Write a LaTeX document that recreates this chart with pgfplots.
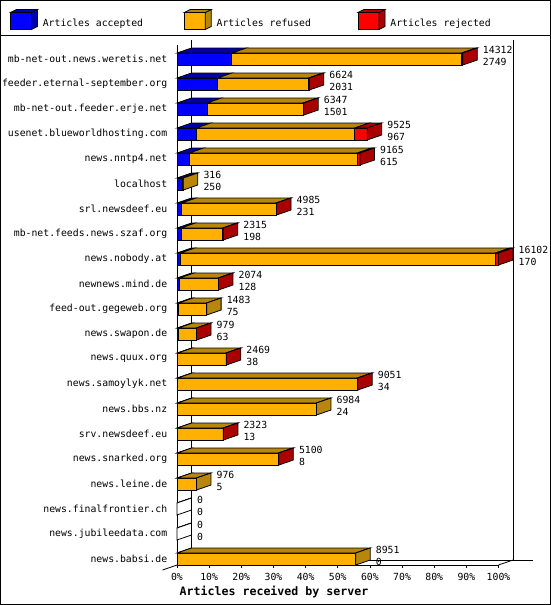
\documentclass[border=0pt]{standalone}
\usepackage{fontspec}
\setmainfont{DejaVu Sans Mono}
\usepackage{pgfplots}
\usepackage{pgfplotstable}
\pgfplotsset{compat=1.18}

\definecolor{bluef}{HTML}{0000FF}
\definecolor{blued}{HTML}{0000AA}
\definecolor{orangef}{HTML}{FFB000}
\definecolor{oranged}{HTML}{B8860B}
\definecolor{redf}{HTML}{FF0000}
\definecolor{redd}{HTML}{AA0000}
\newcommand\lab{\fontsize{9.8bp}{10bp}\selectfont}

% offered, accepted, rejected (refused = offered - accepted - rejected)
\pgfplotstableread{
row total acc rej
0  14312 2749 50
1  6624  2031 30
2  6347  1501 30
3  9525  967  620
4  9165  615  130
5  316   250  0
6  4985  231  20
7  2315  198  20
8  16102 170  150
9  2074  128  15
10 1483  75   0
11 979   63   10
12 2469  38   15
13 9051  34   20
14 6984  24   0
15 2323  13   10
16 5100  8    15
17 976   5    0
18 0     0    0
19 0     0    0
20 8951  0    0
}\data

\def\dx{4.51}
\pgfplotsset{
  face/.style={forget plot, draw=black, line width=0.8bp},
  front/.style={forget plot, xbar, bar shift=0pt, bar width=12bp, draw=black, line width=0.8bp},
  cube/.style 2 args={legend image code/.code={
    \draw[draw=black, line width=0.8bp, fill=#1] (0bp,-5.8bp) rectangle (21bp,11.2bp);
    \draw[draw=black, line width=0.8bp, fill=#2] (21bp,-5.8bp) -- (27bp,-2.8bp) -- (27bp,14.2bp) -- (21bp,11.2bp) -- cycle;
    \draw[draw=black, line width=0.8bp, fill=#2] (0bp,11.2bp) -- (6bp,14.2bp) -- (27bp,14.2bp) -- (21bp,11.2bp) -- cycle;
  }},
}

\begin{document}
\begin{tikzpicture}
\begin{axis}[
  at={(176.5bp,-565bp)}, anchor=south west,
  scale only axis, width=321.5bp, height=520bp,
  xmin=0, xmax=100, ymin=-0.56, ymax=20.24, y dir=reverse,
  clip=false,
  axis x line*=bottom, axis y line*=left,
  axis line style={-, line width=0.8bp},
  xtick={0,10,...,100},
  xticklabels={0\%,10\%,20\%,30\%,40\%,50\%,60\%,70\%,80\%,90\%,100\%},
  tick align=outside, major tick length=3bp,
  xtick style={line width=0.8bp, black},
  ytick={0,...,20},
  yticklabels={mb-net-out.news.weretis.net, feeder.eternal-september.org,
    mb-net-out.feeder.erje.net, usenet.blueworldhosting.com, news.nntp4.net,
    localhost, srl.newsdeef.eu, mb-net.feeds.news.szaf.org, news.nobody.at,
    newnews.mind.de, feed-out.gegeweb.org, news.swapon.de, news.quux.org,
    news.samoylyk.net, news.bbs.nz, srv.newsdeef.eu, news.snarked.org,
    news.leine.de, news.finalfrontier.ch, news.jubileedata.com, news.babsi.de},
  ytick style={draw=none},
  ticklabel style={font=\lab},
  yticklabel style={inner sep=0pt, xshift=-6.5bp},
  xticklabel style={inner sep=0pt, yshift=-5.5bp},
  legend columns=3,
  legend style={at={(axis description cs:-0.5194,1.049)}, anchor=west,
    draw=none, fill=none, inner sep=0pt, outer sep=0pt,
    nodes={inner sep=0pt, outer sep=0pt, font=\lab},
    /tikz/every odd column/.append style={column sep=5bp},
    /tikz/every even column/.append style={column sep=11bp}},
]
% back walls and floor
\draw[line width=0.8bp] (\dx,-0.76) -- (\dx,20.04);
\draw[line width=0.8bp] (104.51,-0.76) -- (104.51,20.04);
\draw[line width=0.8bp] (\dx,20.04) -- (110.6,20.04);
\draw[line width=0.8bp] (100,20.24) -- (104.51,20.04);
\draw[line width=0.8bp] (-4.5,20.44) -- (0,20.24);

\addlegendimage{cube={bluef}{blued}}
\addlegendentry{\makebox[130bp][l]{Articles accepted}}
\addlegendimage{cube={orangef}{oranged}}
\addlegendentry{\makebox[130bp][l]{Articles refused}}
\addlegendimage{cube={redf}{redd}}
\addlegendentry{\makebox[130bp][l]{Articles rejected}}

% front faces
\addplot[front, fill=redf] table[x expr=\thisrow{total}/161.02, y=row]{\data};
\addplot[front, fill=orangef] table[x expr=(\thisrow{total}-\thisrow{rej})/161.02, y=row]{\data};
\addplot[front, fill=bluef] table[x expr=\thisrow{acc}/161.02, y=row]{\data};

% top and side faces
\pgfplotsinvokeforeach{0,...,20}{%
  \pgfplotstablegetelem{#1}{total}\of\data \pgfmathsetmacro\T{\pgfplotsretval/161.02}%
  \pgfplotstablegetelem{#1}{acc}\of\data \pgfmathsetmacro\A{\pgfplotsretval/161.02}%
  \pgfplotstablegetelem{#1}{rej}\of\data \pgfmathsetmacro\R{\pgfplotsretval/161.02}%
  \pgfmathsetmacro\B{\T-\R}%
  \pgfmathsetmacro\Td{\T+\dx}\pgfmathsetmacro\Ad{\A+\dx}\pgfmathsetmacro\Bd{\B+\dx}%
  \pgfmathsetmacro\ya{#1-0.24}\pgfmathsetmacro\yb{#1-0.44}%
  \pgfmathsetmacro\yc{#1+0.04}\pgfmathsetmacro\yd{#1+0.24}%
  \ifdim\R pt>0pt \def\sc{redd}\else
    \ifdim\B pt>\A pt \def\sc{oranged}\else
      \ifdim\A pt>0pt \def\sc{blued}\else \def\sc{white}\fi\fi\fi
  \edef\tmp{%
    \noexpand\addplot[face, fill=blued] coordinates {(0,\ya) (\dx,\yb) (\Ad,\yb) (\A,\ya)} -- cycle;
    \noexpand\addplot[face, fill=oranged] coordinates {(\A,\ya) (\Ad,\yb) (\Bd,\yb) (\B,\ya)} -- cycle;
    \noexpand\addplot[face, fill=redd] coordinates {(\B,\ya) (\Bd,\yb) (\Td,\yb) (\T,\ya)} -- cycle;
    \noexpand\addplot[face, fill=\sc] coordinates {(\T,\ya) (\Td,\yb) (\Td,\yc) (\T,\yd)} -- cycle;
  }\tmp
}

% value labels
\addplot[forget plot, draw=none, mark=none, point meta=explicit symbolic,
  nodes near coords={\pgfplotspointmeta},
  every node near coord/.style={anchor=west, xshift=20bp, yshift=9bp, inner sep=0pt, font=\lab}]
  table[x expr=\thisrow{total}/161.02, y=row, meta=total]{\data};
\addplot[forget plot, draw=none, mark=none, point meta=explicit symbolic,
  nodes near coords={\pgfplotspointmeta},
  every node near coord/.style={anchor=west, xshift=20bp, yshift=-3bp, inner sep=0pt, font=\lab}]
  table[x expr=\thisrow{total}/161.02, y=row, meta=acc]{\data};
\end{axis}
\node[anchor=west, inner sep=0pt, font=\fontsize{11.6bp}{12bp}\selectfont\bfseries]
  at (179bp,-592bp) {Articles received by server};
\pgfresetboundingbox
\draw[line width=1bp] (0.5bp,-0.5bp) rectangle (549.5bp,-604.5bp);
\draw[line width=1bp] (0bp,-35.5bp) -- (550bp,-35.5bp);
\end{tikzpicture}
\end{document}
